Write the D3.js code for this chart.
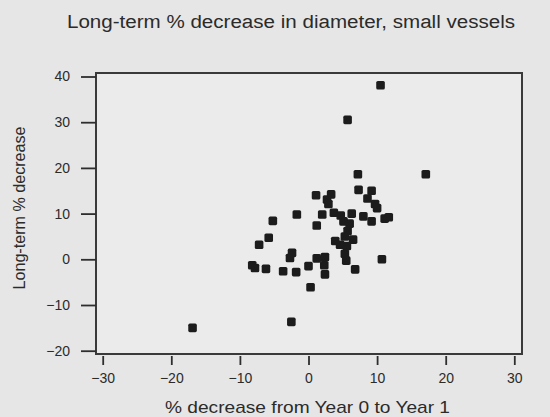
<!DOCTYPE html>
<html>
<head>
<meta charset="utf-8">
<script src="https://cdn.jsdelivr.net/npm/d3@7"></script>
<style>
  html, body { margin: 0; padding: 0; background: #e6e6e6; }
  svg { display: block; }
  text { font-family: "Liberation Sans", Arial, Helvetica, sans-serif; fill: #2b2b2b; }
</style>
</head>
<body>
<script>
// % decrease from Year 0 to Year 1 (x) vs long-term % decrease (y), small vessels
const xValues = [10.5, 5.7, 7.2, 17.1, 7.3, 9.2, 8.6, 9.7, 10.0, 11.1, 11.7, 8.0, 9.2, 6.3, 6.0, 5.7, 5.3, 6.5,
  3.9, 4.6, 5.6, 2.0, 3.3, 2.7, 2.9, 1.1, 3.7, 4.7, 5.1, 1.2, 1.2, 2.4, 2.3, 2.4, 5.3, 5.5, 6.8, 10.7,
  -1.7, -5.2, -5.8, -7.2, -2.4, -2.7, -8.2, -7.8, -6.2, -3.7, -1.8, 0.0, 0.3, -2.5, -16.9];
const yValues = [38.1, 30.5, 18.6, 18.6, 15.2, 15.0, 13.3, 12.1, 11.2, 8.9, 9.2, 9.4, 8.3, 10.0, 7.8, 6.2, 5.0, 4.3,
  4.0, 3.2, 2.9, 9.8, 14.2, 13.1, 12.1, 14.0, 10.2, 9.6, 8.3, 7.4, 0.2, 0.5, -1.3, -3.3, 1.2, -0.3, -2.2, 0.0,
  9.8, 8.4, 4.7, 3.2, 1.4, 0.3, -1.3, -1.9, -2.1, -2.6, -2.8, -1.5, -6.1, -13.7, -15.0];
const xTicks = [-30, -20, -10, 0, 10, 20, 30];
const yTicks = [40, 30, 20, 10, 0, -10, -20];

const titleText = "Long-term % decrease in diameter, small vessels";
const xLabelText = "% decrease from Year 0 to Year 1";
const yLabelText = "Long-term % decrease";

const W = 550, H = 417;
const svg = d3.select("body").append("svg").attr("width", W).attr("height", H);

const defs = svg.append("defs");
defs.append("filter").attr("id", "soft")
  .append("feGaussianBlur").attr("stdDeviation", 0.45);

const x = d3.scaleLinear().domain([-30, 30]).range([102.7, 514.3]);
const y = d3.scaleLinear().domain([-20, 40]).range([350.7, 76.5]);

// plot frame
const frame = { x0: 96, y0: 73, x1: 522, y1: 354 };
svg.append("rect")
  .attr("x", frame.x0).attr("y", frame.y0)
  .attr("width", frame.x1 - frame.x0).attr("height", frame.y1 - frame.y0)
  .attr("fill", "#ebebeb").attr("stroke", "#3a3a3a").attr("stroke-width", 2);

// y axis: ticks outside the left edge of the frame
const yAxis = d3.axisLeft(y).tickValues(yTicks).tickSize(15).tickPadding(11).tickFormat(d3.format("d"));
const gy = svg.append("g").attr("transform", `translate(${frame.x0},0)`).call(yAxis);
gy.select(".domain").remove();
gy.selectAll(".tick line").attr("stroke", "#2e2e2e").attr("stroke-width", 1.8);
gy.selectAll(".tick text").attr("font-size", 14).attr("fill", "#2b2b2b")
  .style("font-family", "'Liberation Sans', Arial, sans-serif");

// x axis: ticks just below the frame
const xAxis = d3.axisBottom(x).tickValues(xTicks).tickSize(9).tickPadding(8).tickFormat(d3.format("d"));
const gx = svg.append("g").attr("transform", `translate(0,${frame.y1 + 2})`).call(xAxis);
gx.select(".domain").remove();
gx.selectAll(".tick line").attr("stroke", "#2e2e2e").attr("stroke-width", 1.8);
gx.selectAll(".tick text").attr("font-size", 14).attr("fill", "#2b2b2b")
  .style("font-family", "'Liberation Sans', Arial, sans-serif");

// points
const pts = xValues.map((v, i) => ({ x: v, y: yValues[i] }));
const s = 8.6;
svg.append("g").attr("filter", "url(#soft)")
  .selectAll("rect").data(pts).join("rect")
  .attr("x", d => x(d.x) - s / 2)
  .attr("y", d => y(d.y) - s / 2)
  .attr("width", s).attr("height", s)
  .attr("rx", 1.6)
  .attr("fill", "#1c1c1c");

// title and axis labels
svg.append("text").attr("x", 291).attr("y", 28)
  .attr("text-anchor", "middle").attr("font-size", 18)
  .attr("textLength", 448).attr("lengthAdjust", "spacingAndGlyphs")
  .text(titleText);

svg.append("text").attr("x", 307.5).attr("y", 413)
  .attr("text-anchor", "middle").attr("font-size", 17)
  .attr("textLength", 285).attr("lengthAdjust", "spacingAndGlyphs")
  .text(xLabelText);

svg.append("text")
  .attr("transform", "translate(25,208) rotate(-90)")
  .attr("text-anchor", "middle").attr("font-size", 16)
  .attr("textLength", 163).attr("lengthAdjust", "spacingAndGlyphs")
  .text(yLabelText);
</script>
</body>
</html>
